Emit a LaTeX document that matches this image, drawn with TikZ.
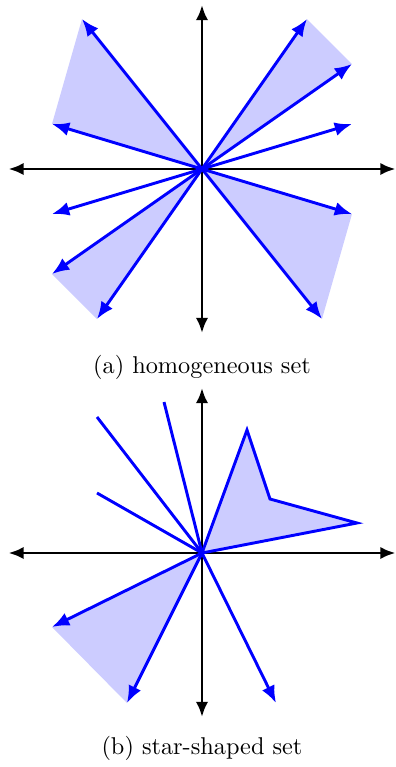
\documentclass[tikz,border=0pt]{standalone}
\usepackage{tikz}
\usetikzlibrary{arrows.meta}

\begin{document}
\begin{tikzpicture}[
    x=7.233mm, y=7.233mm,
    axis/.style={<->, >={Latex[length=2.2mm, width=1.8mm]}, black, line width=1.2pt},
    vec/.style={->, >={Latex[length=2.5mm, width=2mm]}, blue, line width=1.2pt},
    ray/.style={blue, line width=1.2pt},
    cone/.style={fill=blue!20},
    capt/.style={font=\normalsize, inner sep=0pt},
  ]
  \useasboundingbox (-4.04,3.38) rectangle (3.88,-11.96);

  % ============================== Panel (a) ===============================
  % homogeneous: every ray comes with its mirror image -x
  \begin{scope}
    \coordinate (Oa) at (0,0);
    \coordinate (a1) at (-2.4,3);
    \coordinate (a2) at (-3,0.9);
    \coordinate (a3) at (2.1,3);
    \coordinate (a4) at (3,2.1);
    \coordinate (a5) at (3,0.9);
    \coordinate (a6) at (2.4,-3);
    \coordinate (a7) at (3,-0.9);
    \coordinate (a8) at (-2.1,-3);
    \coordinate (a9) at (-3,-2.1);
    \coordinate (a10) at (-3,-0.9);

    \fill[cone] (Oa) -- (a1) -- (a2) -- cycle;
    \fill[cone] (Oa) -- (a3) -- (a4) -- cycle;
    \fill[cone] (Oa) -- (a6) -- (a7) -- cycle;
    \fill[cone] (Oa) -- (a8) -- (a9) -- cycle;

    \coordinate (axl) at (-3.87,0);
    \coordinate (axr) at (3.87,0);
    \coordinate (ayb) at (0,-3.28);
    \coordinate (ayt) at (0,3.28);
    \draw[axis] (axl) -- (axr);
    \draw[axis] (ayb) -- (ayt);

    \foreach \p in {a1,a2,a3,a4,a5,a6,a7,a8,a9,a10}
      \draw[vec] (Oa) -- (\p);

    \node[capt] (capa) at (0,-3.96) {(a) homogeneous set};
  \end{scope}

  % ============================== Panel (b) ===============================
  % star-shaped: segments seen from the origin, no symmetry
  \begin{scope}[shift={(0,-7.68)}]
    \coordinate (Ob) at (0,0);
    \coordinate (b1) at (-2.1,2.72);
    \coordinate (b2) at (-0.76,3.02);
    \coordinate (b3) at (-2.1,1.2);
    \coordinate (b4) at (-3,-1.48);
    \coordinate (b5) at (-1.5,-3);
    \coordinate (b6) at (1.48,-3);
    \coordinate (s1) at (0.9,2.46);
    \coordinate (s2) at (1.36,1.08);
    \coordinate (s3) at (3.1,0.6);

    \fill[cone] (Ob) -- (b4) -- (b5) -- cycle;

    \coordinate (bxl) at (-3.87,0);
    \coordinate (bxr) at (3.87,0);
    \coordinate (byb) at (0,-3.28);
    \coordinate (byt) at (0,3.3);
    \draw[axis] (bxl) -- (bxr);
    \draw[axis] (byb) -- (byt);

    \draw[ray, fill=blue!20] (Ob) -- (s1) -- (s2) -- (s3) -- cycle;
    \foreach \p in {b1,b2,b3}
      \draw[ray] (Ob) -- (\p);
    \foreach \p in {b4,b5,b6}
      \draw[vec] (Ob) -- (\p);

    \node[capt] (capb) at (0,-3.9) {(b) star-shaped set};
  \end{scope}
\end{tikzpicture}
\end{document}
